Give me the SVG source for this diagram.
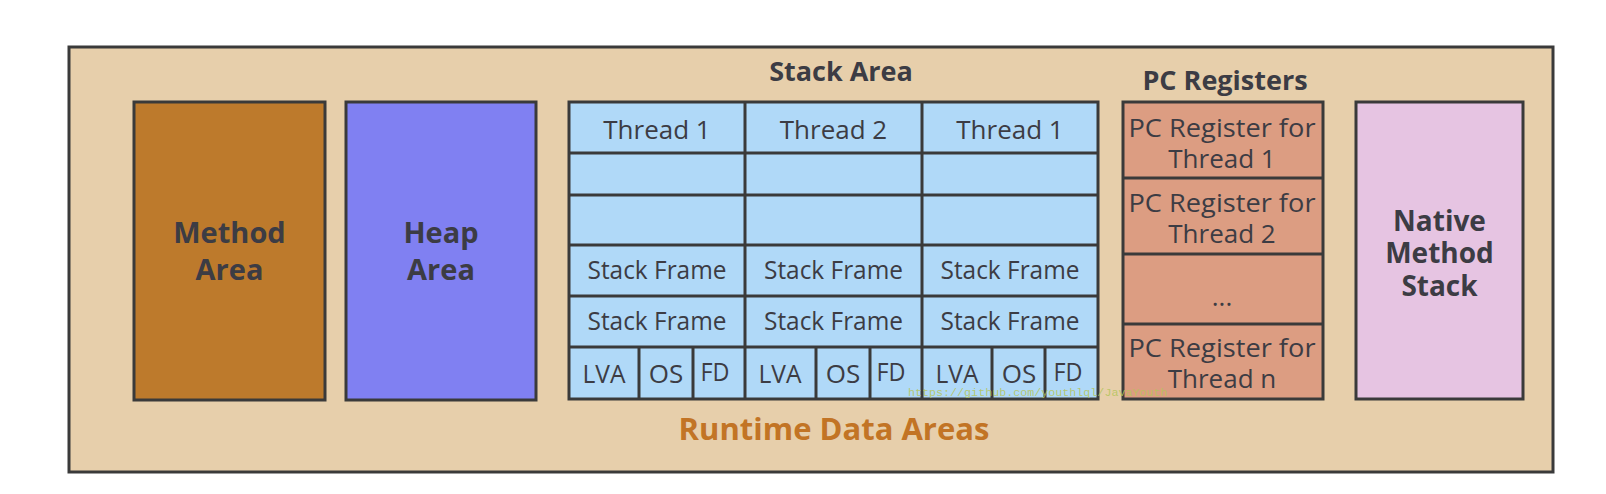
<svg xmlns="http://www.w3.org/2000/svg" width="1606" height="494" viewBox="0 0 1606 494">
<style>
.bx{stroke:#3a3a3a;stroke-width:3}
.t{font-family:"Open Sans","Noto Sans","Liberation Sans",sans-serif;fill:#3c3c44;text-anchor:middle}
.b{font-weight:700;font-size:29px}
.r{font-size:26px}
.sc{fill:#b0d9f8}
.pc{fill:#dc9d82}
</style>
<rect width="1606" height="494" fill="#ffffff"/>
<g id="runtime">
<rect class="bx" x="69" y="47" width="1484" height="425" fill="#e7cfab"/>
<text class="t b" x="834" y="440" style="fill:#c27425;font-size:31px">Runtime Data Areas</text>
</g>
<g id="method-area">
<rect class="bx" x="134" y="102" width="191" height="298" fill="#bd7a2c"/>
<text class="t b" x="229.5" y="243">Method</text>
<text class="t b" x="229.5" y="280">Area</text>
</g>
<g id="heap-area">
<rect class="bx" x="346" y="102" width="190" height="298" fill="#8080f2"/>
<text class="t b" x="441" y="243">Heap</text>
<text class="t b" x="441" y="280">Area</text>
</g>
<g id="stack-area">
<text class="t b" x="841" y="81" style="font-size:27px">Stack Area</text>
<rect class="bx sc" x="569" y="102" width="529" height="297"/>
<g class="bx" fill="none">
<line x1="745" y1="102" x2="745" y2="399"/>
<line x1="922" y1="102" x2="922" y2="399"/>
<line x1="569" y1="153" x2="1098" y2="153"/>
<line x1="569" y1="195" x2="1098" y2="195"/>
<line x1="569" y1="245" x2="1098" y2="245"/>
<line x1="569" y1="296" x2="1098" y2="296"/>
<line x1="569" y1="347" x2="1098" y2="347"/>
<line x1="639" y1="347" x2="639" y2="399"/>
<line x1="693" y1="347" x2="693" y2="399"/>
<line x1="816" y1="347" x2="816" y2="399"/>
<line x1="870" y1="347" x2="870" y2="399"/>
<line x1="992" y1="347" x2="992" y2="399"/>
<line x1="1045" y1="347" x2="1045" y2="399"/>
</g>
<text class="t r" x="657" y="139">Thread 1</text>
<text class="t r" x="833.5" y="139">Thread 2</text>
<text class="t r" x="1010" y="139">Thread 1</text>
<text class="t r" x="657" y="279" textLength="139" lengthAdjust="spacingAndGlyphs">Stack Frame</text>
<text class="t r" x="833.5" y="279" textLength="139" lengthAdjust="spacingAndGlyphs">Stack Frame</text>
<text class="t r" x="1010" y="279" textLength="139" lengthAdjust="spacingAndGlyphs">Stack Frame</text>
<text class="t r" x="657" y="330" textLength="139" lengthAdjust="spacingAndGlyphs">Stack Frame</text>
<text class="t r" x="833.5" y="330" textLength="139" lengthAdjust="spacingAndGlyphs">Stack Frame</text>
<text class="t r" x="1010" y="330" textLength="139" lengthAdjust="spacingAndGlyphs">Stack Frame</text>
<text class="t r" x="604" y="383" textLength="43" lengthAdjust="spacingAndGlyphs">LVA</text>
<text class="t r" x="666" y="383">OS</text>
<text class="t r" x="715" y="381" textLength="29" lengthAdjust="spacingAndGlyphs">FD</text>
<text class="t r" x="780" y="383" textLength="43" lengthAdjust="spacingAndGlyphs">LVA</text>
<text class="t r" x="843" y="383">OS</text>
<text class="t r" x="891" y="381" textLength="29" lengthAdjust="spacingAndGlyphs">FD</text>
<text class="t r" x="957" y="383" textLength="43" lengthAdjust="spacingAndGlyphs">LVA</text>
<text class="t r" x="1019" y="383">OS</text>
<text class="t r" x="1068" y="381" textLength="29" lengthAdjust="spacingAndGlyphs">FD</text>
</g>
<g id="pc-registers">
<text class="t b" x="1225" y="90" style="font-size:27px">PC Registers</text>
<rect class="bx pc" x="1123" y="102" width="200" height="297"/>
<g class="bx" fill="none">
<line x1="1123" y1="178" x2="1323" y2="178"/>
<line x1="1123" y1="254" x2="1323" y2="254"/>
<line x1="1123" y1="324" x2="1323" y2="324"/>
</g>
<text class="t r" x="1222" y="137" textLength="187" lengthAdjust="spacingAndGlyphs">PC Register for</text>
<text class="t r" x="1222" y="168">Thread 1</text>
<text class="t r" x="1222" y="212" textLength="187" lengthAdjust="spacingAndGlyphs">PC Register for</text>
<text class="t r" x="1222" y="243">Thread 2</text>
<text class="t r" x="1222" y="306">...</text>
<text class="t r" x="1222" y="357" textLength="187" lengthAdjust="spacingAndGlyphs">PC Register for</text>
<text class="t r" x="1222" y="388">Thread n</text>
</g>
<g id="native-method-stack">
<rect class="bx" x="1356" y="102" width="167" height="297" fill="#e6c4e2"/>
<text class="t b" x="1439.5" y="231" style="font-size:28px">Native</text>
<text class="t b" x="1439.5" y="263" style="font-size:28px">Method</text>
<text class="t b" x="1439.5" y="296" style="font-size:28px">Stack</text>
</g>
<g id="connectors"></g>
<text x="908" y="396" font-family="Liberation Mono, monospace" font-size="11.7" fill="#b4c45a" fill-opacity="0.85">https://github.com/youthlql/JavaYouth</text>
</svg>
